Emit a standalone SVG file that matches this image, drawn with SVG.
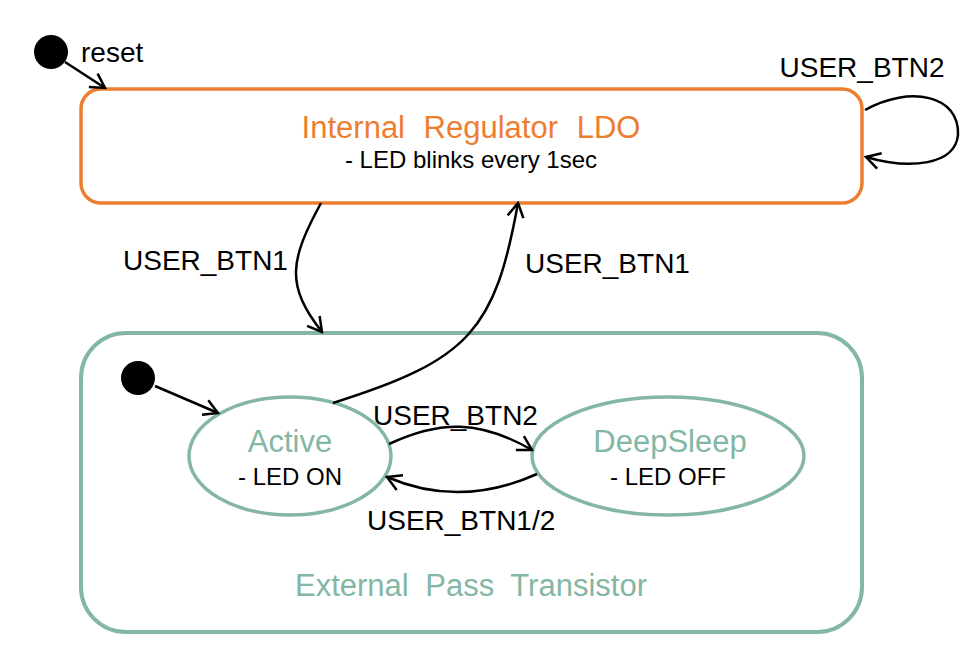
<svg xmlns="http://www.w3.org/2000/svg" width="980" height="663" viewBox="0 0 980 663">
<style>
text{font-family:"Liberation Sans",Arial,sans-serif}
.lbl{font-size:28px;fill:#000}
.sub{font-size:24px;fill:#000;text-anchor:middle}
.tt{font-size:31px;text-anchor:middle}
.or{fill:#ED7D31}
.tl{fill:#84B7A3}
.edge{fill:none;stroke:#000;stroke-width:2.5;marker-end:url(#ah)}
</style>
<defs>
<marker id="ah" viewBox="0 0 20 20" refX="18" refY="10" markerWidth="20" markerHeight="20" markerUnits="userSpaceOnUse" orient="auto">
<path d="M4,2 L18,10 L4,18" fill="none" stroke="#000" stroke-width="2.5"/>
</marker>
</defs>
<g id="ext">
<rect x="81" y="333" width="781" height="299" rx="45" ry="45" fill="#fff" stroke="#84B7A3" stroke-width="4"/>
<text class="tt tl" x="471" y="596" word-spacing="8">External  Pass Transistor</text>
</g>
<g id="ldo">
<rect x="81" y="89" width="781" height="114" rx="20" ry="20" fill="#fff" stroke="#ED7D31" stroke-width="3.5"/>
<text class="tt or" x="471" y="138" word-spacing="10">Internal Regulator LDO</text>
<text class="sub" x="471" y="168">- LED blinks every 1sec</text>
</g>
<g id="reset">
<circle cx="51" cy="52" r="17" fill="#000"/>
<text class="lbl" x="81" y="62">reset</text>
</g>
<g id="init2">
<circle cx="138" cy="378" r="17" fill="#000"/>
</g>
<g id="active">
<ellipse cx="290" cy="456" rx="101" ry="59" fill="#fff" stroke="#84B7A3" stroke-width="3.5"/>
<text class="tt tl" x="290" y="452">Active</text>
<text class="sub" x="290" y="485">- LED ON</text>
</g>
<g id="deepsleep">
<ellipse cx="668" cy="456" rx="136" ry="59" fill="#fff" stroke="#84B7A3" stroke-width="3.5"/>
<text class="tt tl" x="670" y="452">DeepSleep</text>
<text class="sub" x="668" y="485">- LED OFF</text>
</g>
<g id="connectors">
<path class="edge" d="M65,62 L105,88"/>
<path class="edge" d="M865,110 C910,85 960,95 958,135 C955,165 910,170 866,157"/>
<path class="edge" d="M321,203 C290,260 285,285 322,332"/>
<path class="edge" d="M333,403 C470,360 495,330 518,203"/>
<path class="edge" d="M155,386 L218,413"/>
<path class="edge" d="M389,444 C440,420 480,420 532,450"/>
<path class="edge" d="M537,474 C490,495 440,500 387,477"/>
<text class="lbl" x="862" y="77" text-anchor="middle">USER_BTN2</text>
<text class="lbl" x="123" y="270">USER_BTN1</text>
<text class="lbl" x="525" y="273">USER_BTN1</text>
<text class="lbl" x="373" y="425">USER_BTN2</text>
<text class="lbl" x="367" y="530">USER_BTN1/2</text>
</g>
</svg>
